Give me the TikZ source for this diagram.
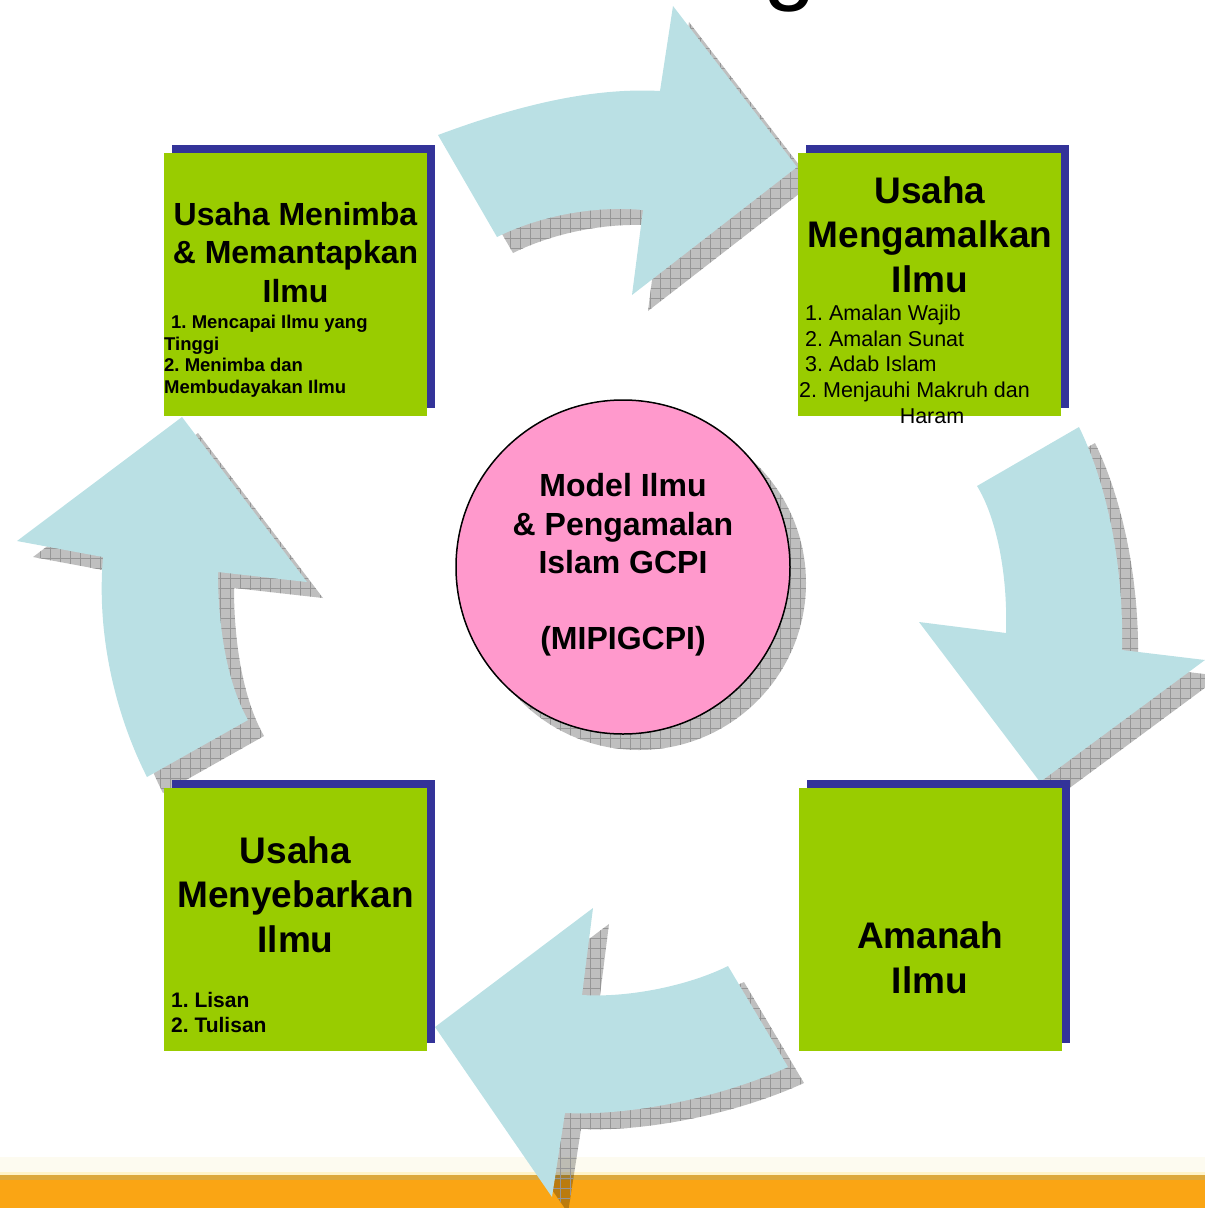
\documentclass[tikz,border=0pt]{standalone}
\usepackage{fontspec}
\setmainfont{Liberation Sans}
\usetikzlibrary{patterns.meta}
\definecolor{boxgreen}{RGB}{153,204,0}
\definecolor{boxblue}{RGB}{51,51,153}
\definecolor{circpink}{RGB}{255,153,204}
\definecolor{arrblue}{RGB}{186,224,228}
\definecolor{barorange}{RGB}{250,165,20}
\definecolor{bartan}{RGB}{220,168,60}
\definecolor{baryellow}{RGB}{255,243,200}
\definecolor{barpale}{RGB}{253,251,240}
\definecolor{gridgray}{RGB}{150,150,150}
\tikzset{
  arrowfill/.style={fill=arrblue},
  shdw/.style={preaction={fill=black, fill opacity=0.25},
    pattern={Hatch[distance=10pt, angle=0, line width=0.6pt]},
    pattern color=gridgray},
  greenbox/.style={fill=boxgreen, minimum width=263, minimum height=263, inner sep=0},
  bluebox/.style={fill=boxblue, minimum width=263, minimum height=263, inner sep=0},
  tA/.style={font=\fontsize{32}{38}\selectfont\bfseries, inner sep=0, anchor=base},
  tB/.style={font=\fontsize{37}{44}\selectfont\bfseries, inner sep=0, anchor=base},
  lA/.style={font=\fontsize{18.5}{22}\selectfont\bfseries, inner sep=0, anchor=base west},
  lB/.style={font=\fontsize{21.5}{26}\selectfont, inner sep=0, anchor=base west},
  lC/.style={font=\fontsize{21}{25}\selectfont\bfseries, inner sep=0, anchor=base west},
}
\begin{document}
\frenchspacing
\begin{tikzpicture}[x=1pt, y=-1pt]
\useasboundingbox (0,0) rectangle (1205,1208);
\clip (0,0) rectangle (1205,1208);
% partial title glyph
\node[anchor=base, inner sep=0, font=\fontsize{95}{95}\selectfont] (gtitle) at (790,-8) {g};
% bottom bar
\fill[barpale] (0,1157) rectangle (1205,1172);
\fill[baryellow] (0,1172) rectangle (1205,1175);
\fill[bartan] (0,1175) rectangle (1205,1180);
\fill[barorange] (0,1180) rectangle (1205,1208);
% top arrow
\path[shdw, shift={(16,16)}] (438,135) .. controls (508,109) and (586,87) .. (660,91) -- (673,6) -- (797,167) -- (632,295) -- (643,210) .. controls (590,205) and (535,218) .. (497,237) -- cycle;
\path[arrowfill] (438,135) .. controls (508,109) and (586,87) .. (660,91) -- (673,6) -- (797,167) -- (632,295) -- (643,210) .. controls (590,205) and (535,218) .. (497,237) -- cycle;
% right arrow
\path[shdw, shift={(16,16)}] (1079,427) .. controls (1105,480) and (1124,560) .. (1122,650) -- (1205,660) -- (1040,782) -- (919,622) -- (1006,633) .. controls (1008,570) and (995,515) .. (977,486) -- cycle;
\path[arrowfill] (1079,427) .. controls (1105,480) and (1124,560) .. (1122,650) -- (1205,660) -- (1040,782) -- (919,622) -- (1006,633) .. controls (1008,570) and (995,515) .. (977,486) -- cycle;
% bottom arrow
\path[shdw, shift={(16,16)}] (788,1067) .. controls (720,1098) and (630,1116) .. (565,1113) -- (552,1197) -- (435,1027) -- (593,908) -- (582,995) .. controls (630,998) and (690,985) .. (728,966) -- cycle;
\path[arrowfill] (788,1067) .. controls (720,1098) and (630,1116) .. (565,1113) -- (552,1197) -- (435,1027) -- (593,908) -- (582,995) .. controls (630,998) and (690,985) .. (728,966) -- cycle;
% left arrow
\path[shdw, shift={(16,16)}] (147,777) .. controls (118,720) and (96,640) .. (103,557) -- (17,541) -- (182,417) -- (307,582) -- (218,572) .. controls (218,630) and (228,685) .. (248,720) -- cycle;
\path[arrowfill] (147,777) .. controls (118,720) and (96,640) .. (103,557) -- (17,541) -- (182,417) -- (307,582) -- (218,572) .. controls (218,630) and (228,685) .. (248,720) -- cycle;
% hub
\node[circle, minimum size=334, inner sep=0, shdw] (hubs) at (639,583) {};
\node[circle, minimum size=334, inner sep=0, fill=circpink, draw=black, line width=1.5pt] (hub) at (623,567) {};
% boxes
\node[bluebox] (b1s) at (303.5,276.5) {};
\node[greenbox] (b1) at (295.5,284.5) {};
\node[bluebox] (b2s) at (937.5,276.5) {};
\node[greenbox] (b2) at (929.5,284.5) {};
\node[bluebox] (b3s) at (303.5,911.5) {};
\node[greenbox] (b3) at (295.5,919) {};
\node[bluebox] (b4s) at (938.5,911.5) {};
\node[greenbox] (b4) at (930.5,919) {};
% texts top-left
\node[tA] (tl1) at (295.5,225) {Usaha Menimba};
\node[tA] (tl2) at (295.5,263.5) {\& Memantapkan};
\node[tA] (tl3) at (295.5,302) {Ilmu};
\node[lA] (tl4) at (171,328) {1. Mencapai Ilmu yang};
\node[lA] (tl5) at (164,350) {Tinggi};
\node[lA] (tl6) at (164,371.5) {2. Menimba dan};
\node[lA] (tl7) at (164,393) {Membudayakan Ilmu};
% texts top-right
\node[tB] (tr1) at (930,203) {Usaha};
\node[tB] (tr2) at (930,247) {Mengamalkan};
\node[tB] (tr3) at (930,292) {Ilmu};
\node[lB] (tr4) at (805,320) {1. Amalan Wajib};
\node[lB] (tr5) at (805,346) {2. Amalan Sunat};
\node[lB] (tr6) at (805,371.5) {3. Adab Islam};
\node[lB] (tr7) at (799,397) {2. Menjauhi Makruh dan};
\node[lB, anchor=base] (tr8) at (932,423) {Haram};
% hub text
\node[tA] (h1) at (623,496) {Model Ilmu};
\node[tA] (h2) at (623,535) {\& Pengamalan};
\node[tA] (h3) at (623,573) {Islam GCPI};
\node[tA] (h4) at (623,649) {(MIPIGCPI)};
% bottom-left
\node[tB] (bl1) at (295.5,863) {Usaha};
\node[tB] (bl2) at (295.5,907.5) {Menyebarkan};
\node[tB] (bl3) at (295.5,952) {Ilmu};
\node[lC] (bl4) at (171,1007) {1. Lisan};
\node[lC] (bl5) at (171,1032) {2. Tulisan};
% bottom-right
\node[tB] (br1) at (930,948) {Amanah};
\node[tB] (br2) at (930,993) {Ilmu};
\end{tikzpicture}
\end{document}
